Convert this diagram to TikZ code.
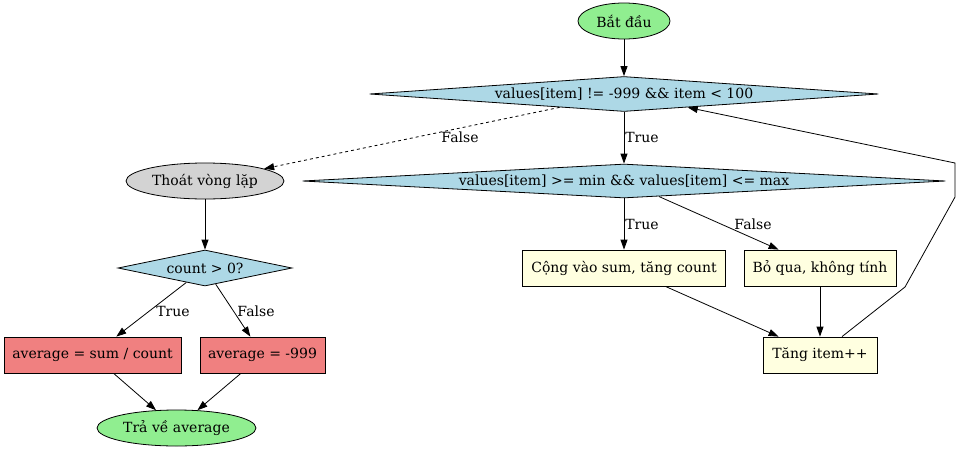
\documentclass[tikz,border=0pt]{standalone}
\usepackage{fontspec}
\setmainfont{DejaVu Serif}
\usetikzlibrary{shapes.geometric,arrows.meta,calc}
\definecolor{lgreen}{HTML}{90EE90}
\definecolor{lblue}{HTML}{ADD8E6}
\definecolor{lgray}{HTML}{D3D3D3}
\definecolor{lcoral}{HTML}{F08080}
\definecolor{lyellow}{HTML}{FFFFE0}
\begin{document}
\begin{tikzpicture}[x=1pt,y=1pt,
  every node/.style={font=\fontsize{14}{16}\selectfont, line width=0.8pt},
  term/.style={ellipse, draw, inner sep=0pt, minimum height=36pt},
  dec/.style={diamond, draw, fill=lblue, inner sep=0pt},
  proc/.style={rectangle, draw, inner sep=0pt, minimum height=36pt},
  arr/.style={-{Triangle[length=10pt,width=7pt]}, line width=0.8pt},
  lbl/.style={inner sep=1pt}
]
\useasboundingbox (0,0) rectangle (960,-450);
\node[term, fill=lgreen, minimum width=92pt] (start) at (624,-21) {Bắt đầu};
\node[dec, minimum width=509pt, minimum height=35pt, aspect=14.5] (d1) at (624,-94) {values[item] != -999 \&\& item < 100};
\node[dec, minimum width=643pt, minimum height=34pt, aspect=18.9] (d2) at (624,-181) {values[item] >= min \&\& values[item] <= max};
\node[term, fill=lgray, minimum width=158pt] (exit) at (205,-181) {Thoát vòng lặp};
\node[dec, minimum width=174pt, minimum height=36pt, aspect=4.8] (cnt) at (205,-268) {count > 0?};
\node[proc, fill=lcoral, minimum width=177pt] (avg1) at (92.5,-355) {average = sum / count};
\node[proc, fill=lcoral, minimum width=125pt] (avg2) at (262.5,-355) {average = -999};
\node[term, fill=lgreen, minimum width=159pt] (ret) at (176.5,-428) {Trả về average};
\node[proc, fill=lyellow, minimum width=203pt] (add) at (624,-268) {Cộng vào sum, tăng count};
\node[proc, fill=lyellow, minimum width=152pt] (skip) at (820,-268) {Bỏ qua, không tính};
\node[proc, fill=lyellow, minimum width=114pt] (inc) at (820,-355) {Tăng item++};

\draw[arr] (start) -- (d1);
\draw[arr, dashed] (d1) -- (exit);
\node[lbl] (lf1) at (460,-137) {False};
\draw[arr] (d1) -- (d2);
\node[lbl, anchor=west] (lt1) at (624,-137) {True};
\draw[arr] (d2) -- (add);
\node[lbl, anchor=west] (lt2) at (624,-224) {True};
\draw[arr] (d2) -- (skip);
\node[lbl] (lf2) at (753,-224) {False};
\draw[arr] (exit) -- (cnt);
\draw[arr] (cnt) -- (avg1);
\node[lbl] (lt3) at (173,-311) {True};
\draw[arr] (cnt) -- (avg2);
\node[lbl] (lf3) at (256,-311) {False};
\draw[arr] (avg1) -- (ret);
\draw[arr] (avg2) -- (ret);
\draw[arr] (add) -- (inc);
\draw[arr] (skip) -- (inc);
\coordinate (b1) at (905,-287);
\coordinate (b2) at (955,-197);
\coordinate (b3) at (955,-163);
\draw[arr] ([xshift=22pt]inc.north) -- (b1) -- (b2) -- (b3) -- ($(d1.south)!0.25!(d1.east)$);
\end{tikzpicture}
\end{document}
